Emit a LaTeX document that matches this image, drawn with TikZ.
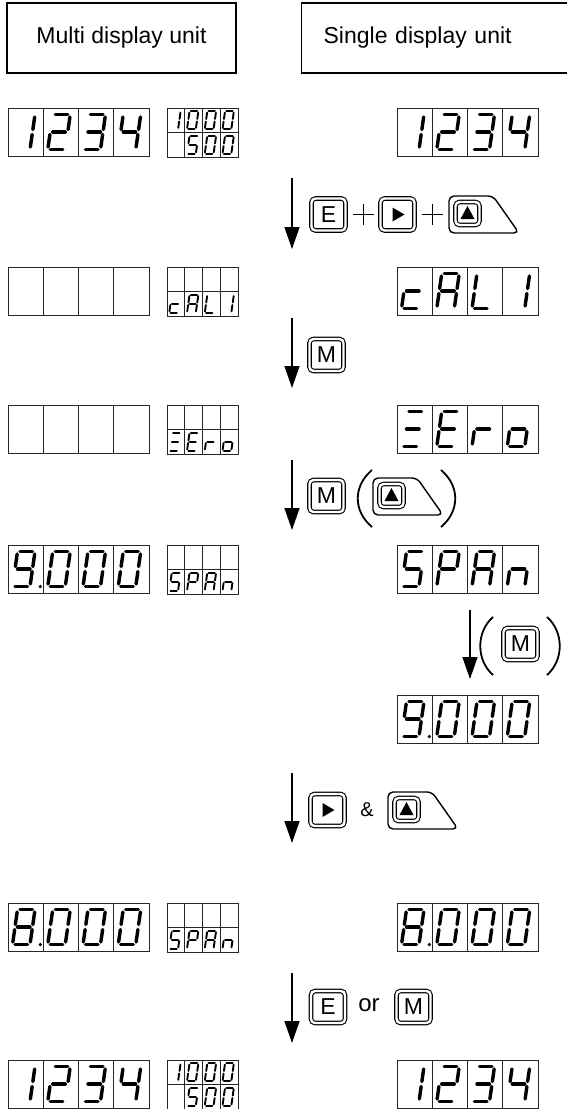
\documentclass[tikz,border=0pt]{standalone}
\usepackage{fontspec}
\setmainfont{Liberation Sans}
\usetikzlibrary{arrows.meta,positioning,calc}

\tikzset{
  flowarr/.style={-{Triangle[width=15pt,length=22pt]}, line width=1.3pt},
  titlebox/.style={draw, line width=1.3pt, minimum height=70pt, inner sep=0pt},
  lcdframe/.style={line width=0.9pt, draw=black!85},
  seg/.style={line width=3.4pt, line cap=round, shorten <=2.5pt, shorten >=2.5pt},
  segsmall/.style={line width=1.9pt, line cap=round, shorten <=1.3pt, shorten >=1.3pt},
  bigcell/.style={segline/.style={seg}},
  smallcell/.style={xscale=0.5035, yscale=0.51, segline/.style={segsmall}},
  keybtn/.style={draw, double, double distance=2.4pt, line width=1.1pt, rounded corners=4pt,
    minimum width=34pt, minimum height=32pt, inner sep=0pt, font=\fontsize{23}{23}\selectfont},
  keyline/.style={line width=1.4pt},
  plusmark/.style={minimum size=20pt, inner sep=0pt},
  plusline/.style={line width=1.2pt},
  parenline/.style={line width=1.8pt},
}

% segment lists of the characters
\def\sgBlank{}
\def\sgOne{b,c}
\def\sgTwo{a,b,g,e,d}
\def\sgThree{a,b,g,c,d}
\def\sgFour{f,g,b,c}
\def\sgFive{a,f,g,c,d}
\def\sgZero{a,b,c,d,e,f}
\def\sgEight{a,b,c,d,e,f,g}
\def\sgNine{a,b,c,d,f,g}
\def\sgLc{g,e,d}
\def\sgA{a,b,c,e,f,g}
\def\sgL{f,e,d}
\def\sgZ{a,g,d}
\def\sgE{a,f,g,e,d}
\def\sgLr{e,g}
\def\sgLo{g,c,d,e}
\def\sgP{a,b,f,g,e}
\def\sgLn{e,g,c}

\newcommand{\segchar}[4]{% x, y, cell style, segments
  \ifx#4\sgBlank\else
  \begin{scope}[shift={(#1,#2)}, #3]
    \coordinate (a1) at (9.5,6.5);  \coordinate (a2) at (27,6.5);
    \coordinate (b1) at (27,6.5);   \coordinate (b2) at (24.5,24);
    \coordinate (c1) at (24.5,24);  \coordinate (c2) at (22,41.5);
    \coordinate (d1) at (4.5,41.5); \coordinate (d2) at (22,41.5);
    \coordinate (e1) at (7,24);     \coordinate (e2) at (4.5,41.5);
    \coordinate (f1) at (9.5,6.5);  \coordinate (f2) at (7,24);
    \coordinate (g1) at (7,24);     \coordinate (g2) at (24.5,24);
    \foreach \s in #4 {\draw[segline] (\s1) -- (\s2);}
  \end{scope}\fi}

\newcommand{\bigrow}[6]{% x, y, four characters
  \draw[lcdframe] (#1,#2) rectangle ++(141,48);
  \foreach \k in {1,2,3} \draw[lcdframe] ({#1+35.25*\k},#2) -- ++(0,48);
  \segchar{#1}{#2}{bigcell}{#3}
  \segchar{#1+35.25}{#2}{bigcell}{#4}
  \segchar{#1+70.5}{#2}{bigcell}{#5}
  \segchar{#1+105.75}{#2}{bigcell}{#6}}

\newcommand{\smallframe}[2]{%
  \draw[lcdframe] (#1,#2) rectangle ++(71,49);
  \draw[lcdframe] (#1,#2+24.5) -- ++(71,0);
  \foreach \k in {1,2,3} \draw[lcdframe] ({#1+17.75*\k},#2) -- ++(0,49);}

\newcommand{\smallrow}[6]{% x, y, four characters
  \segchar{#1}{#2}{smallcell}{#3}
  \segchar{#1+17.75}{#2}{smallcell}{#4}
  \segchar{#1+35.5}{#2}{smallcell}{#5}
  \segchar{#1+53.25}{#2}{smallcell}{#6}}

\newcommand{\dpoint}[2]{\fill (#1+32.3,#2+41.5) circle (1.8pt);}

\newcommand{\upkey}[3]{% name, left, top
  \draw[keyline, rounded corners=5pt] (#2,#3+18) -- (#2,#3) -- (#2+44,#3)
    -- (#2+70,#3+37) -- (#2,#3+37) -- cycle;
  \node[keybtn, minimum width=24pt, minimum height=23pt] (#1) at (#2+18.5,#3+17.5) {};
  \fill (#1.center) ++(-7,5.5) -- ++(14,0) -- ++(-7,-13) -- cycle;}

\newcommand{\playsym}[1]{\fill (#1.center) ++(-5,-7) -- ++(0,14) -- ++(12,-7) -- cycle;}

\begin{document}
\begin{tikzpicture}[x=1pt, y=-1pt, font=\fontsize{23}{27}\selectfont]
\useasboundingbox (0,0) rectangle (567,1109);

% headings
\node[titlebox, minimum width=229pt] (multi) at (121.5,38) {Multi display unit};
\node[titlebox, anchor=west, minimum width=289pt, text width=245pt, inner xsep=22pt, align=left]
  (single) at (301,38) {Single display unit};

% displays
\bigrow{8}{108}{\sgOne}{\sgTwo}{\sgThree}{\sgFour}
\smallframe{167}{108}
\smallrow{167}{108}{\sgOne}{\sgZero}{\sgZero}{\sgZero}
\smallrow{167}{132.5}{\sgBlank}{\sgFive}{\sgZero}{\sgZero}
\bigrow{397}{108}{\sgOne}{\sgTwo}{\sgThree}{\sgFour}

\bigrow{8}{267}{\sgBlank}{\sgBlank}{\sgBlank}{\sgBlank}
\smallframe{167}{267}
\smallrow{167}{291.5}{\sgLc}{\sgA}{\sgL}{\sgOne}
\bigrow{397}{267}{\sgLc}{\sgA}{\sgL}{\sgOne}

\bigrow{8}{405}{\sgBlank}{\sgBlank}{\sgBlank}{\sgBlank}
\smallframe{167}{405}
\smallrow{167}{429.5}{\sgZ}{\sgE}{\sgLr}{\sgLo}
\bigrow{397}{405}{\sgZ}{\sgE}{\sgLr}{\sgLo}

\bigrow{8}{545}{\sgNine}{\sgZero}{\sgZero}{\sgZero}
\dpoint{8}{545}
\smallframe{167}{545}
\smallrow{167}{569.5}{\sgFive}{\sgP}{\sgA}{\sgLn}
\bigrow{397}{545}{\sgFive}{\sgP}{\sgA}{\sgLn}

\bigrow{397}{695}{\sgNine}{\sgZero}{\sgZero}{\sgZero}
\dpoint{397}{695}

\bigrow{8}{903}{\sgEight}{\sgZero}{\sgZero}{\sgZero}
\dpoint{8}{903}
\smallframe{167}{903}
\smallrow{167}{927.5}{\sgFive}{\sgP}{\sgA}{\sgLn}
\bigrow{397}{903}{\sgEight}{\sgZero}{\sgZero}{\sgZero}
\dpoint{397}{903}

\bigrow{8}{1060}{\sgOne}{\sgTwo}{\sgThree}{\sgFour}
\smallframe{167}{1060}
\smallrow{167}{1060}{\sgOne}{\sgZero}{\sgZero}{\sgZero}
\smallrow{167}{1084.5}{\sgBlank}{\sgFive}{\sgZero}{\sgZero}
\bigrow{397}{1060}{\sgOne}{\sgTwo}{\sgThree}{\sgFour}

% arrows
\coordinate (s1) at (292,178);  \coordinate (t1) at (292,249);
\coordinate (s2) at (292,318);  \coordinate (t2) at (292,388);
\coordinate (s3) at (292,460);  \coordinate (t3) at (292,530);
\coordinate (s4) at (470,610);  \coordinate (t4) at (470,679);
\coordinate (s5) at (292,773);  \coordinate (t5) at (292,843);
\coordinate (s6) at (292,973);  \coordinate (t6) at (292,1043);
\foreach \i in {1,...,6} \draw[flowarr] (s\i) -- (t\i);

% E + > + up
\node[keybtn] (kE1) at (328.5,214.5) {E};
\node[plusmark] (pl1) at (363.5,214.5) {};
\node[keybtn] (kR1) at (397.5,214.5) {};
\playsym{kR1}
\node[plusmark] (pl2) at (432.5,214.5) {};
\upkey{kU1}{449}{196}
\draw[plusline] (pl1.west) -- (pl1.east) (pl1.north) -- (pl1.south)
  (pl2.west) -- (pl2.east) (pl2.north) -- (pl2.south);

% M
\node[keybtn] (kM2) at (326.5,355) {M};

% M ( up )
\node[keybtn] (kM3) at (326.5,496) {M};
\draw[parenline] (372,470) .. controls (353,486) and (353,511) .. (372,527);
\upkey{kU3}{373}{478}
\draw[parenline] (441,470) .. controls (460,486) and (460,511) .. (441,527);

% ( M )
\draw[parenline] (493,617) .. controls (476,632) and (476,660) .. (493,675);
\node[keybtn] (kM4) at (520.5,644) {M};
\draw[parenline] (547,617) .. controls (564,632) and (564,660) .. (547,675);

% > & up
\node[keybtn] (kR5) at (327.5,810) {};
\playsym{kR5}
\node[font=\fontsize{20}{20}\selectfont] (amp) at (367,810) {\&};
\upkey{kU5}{388}{792}

% E or M
\node[keybtn] (kE6) at (328,1007) {E};
\node[font=\fontsize{24}{24}\selectfont] (or) at (369,1005) {or};
\node[keybtn] (kM6) at (413.5,1007) {M};
\end{tikzpicture}
\end{document}
